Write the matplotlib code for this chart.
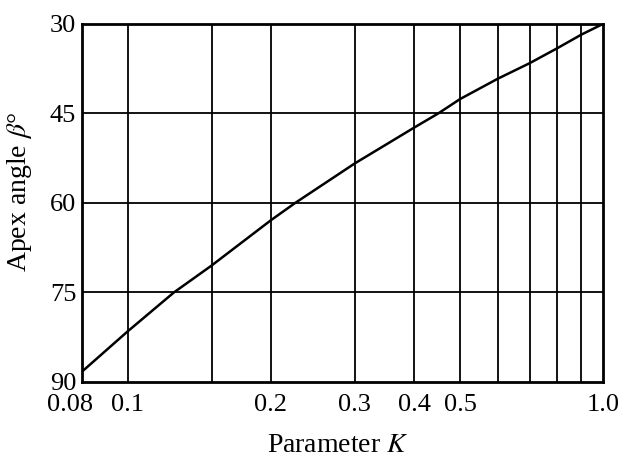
import numpy as np
import matplotlib.pyplot as plt
import matplotlib.transforms as mtransforms

# curve: parameter K vs apex angle beta (deg)
K = [0.08, 0.1, 0.125, 0.15, 0.2, 0.225, 0.3, 0.4, 0.45, 0.5, 0.6, 0.7, 0.8, 0.9, 1.0]
beta = [88.3, 81.5, 75, 70.5, 62.9, 60, 53.4, 47.4, 45, 42.6, 39.2, 36.6, 34.1, 31.8, 30]

x_grid = [0.1, 0.15, 0.2, 0.3, 0.4, 0.5, 0.6, 0.7, 0.8, 0.9]
x_ticks = [0.08, 0.1, 0.2, 0.3, 0.4, 0.5, 1.0]
x_ticklabels = ['0.08', '0.1', '0.2', '0.3', '0.4', '0.5', '1.0']
y_ticks = [30, 45, 60, 75, 90]

plt.rcParams['font.family'] = 'Liberation Serif'
plt.rcParams['mathtext.fontset'] = 'stix'

fig = plt.figure(figsize=(6.29, 4.58), dpi=100)
ax = fig.add_axes([0.130, 0.166, 0.829, 0.782])

ax.set_xscale('log')
ax.set_xlim(0.08, 1.0)
ax.set_ylim(90, 30)

# grid lines
for xv in x_grid:
    ax.axvline(xv, color='black', lw=1.3)
for yv in [45, 60, 75]:
    ax.axhline(yv, color='black', lw=1.3)

ax.plot(K, beta, color='black', lw=1.8)

ax.set_xticks(x_ticks)
ax.set_xticklabels(x_ticklabels)
ax.xaxis.set_minor_locator(plt.NullLocator())
ax.set_yticks(y_ticks)
ax.tick_params(axis='both', length=0, labelsize=19)
ax.tick_params(axis='x', pad=9)
ax.tick_params(axis='y', pad=4)

# nudge the first x label left so it does not touch 0.1
lbl = ax.get_xticklabels()[0]
lbl.set_transform(lbl.get_transform() + mtransforms.ScaledTranslation(-12 / 100, 0, fig.dpi_scale_trans))

for s in ax.spines.values():
    s.set_linewidth(2)
    s.set_color('black')

ax.set_xlabel('Parameter $K$', fontsize=20, va='center')
ax.xaxis.set_label_coords(0.49, -0.176)
ax.set_ylabel(r'Apex angle $\beta$°', fontsize=20, va='center')
ax.yaxis.set_label_coords(-0.12, 0.53)

fig.savefig('out.png', dpi=100)
